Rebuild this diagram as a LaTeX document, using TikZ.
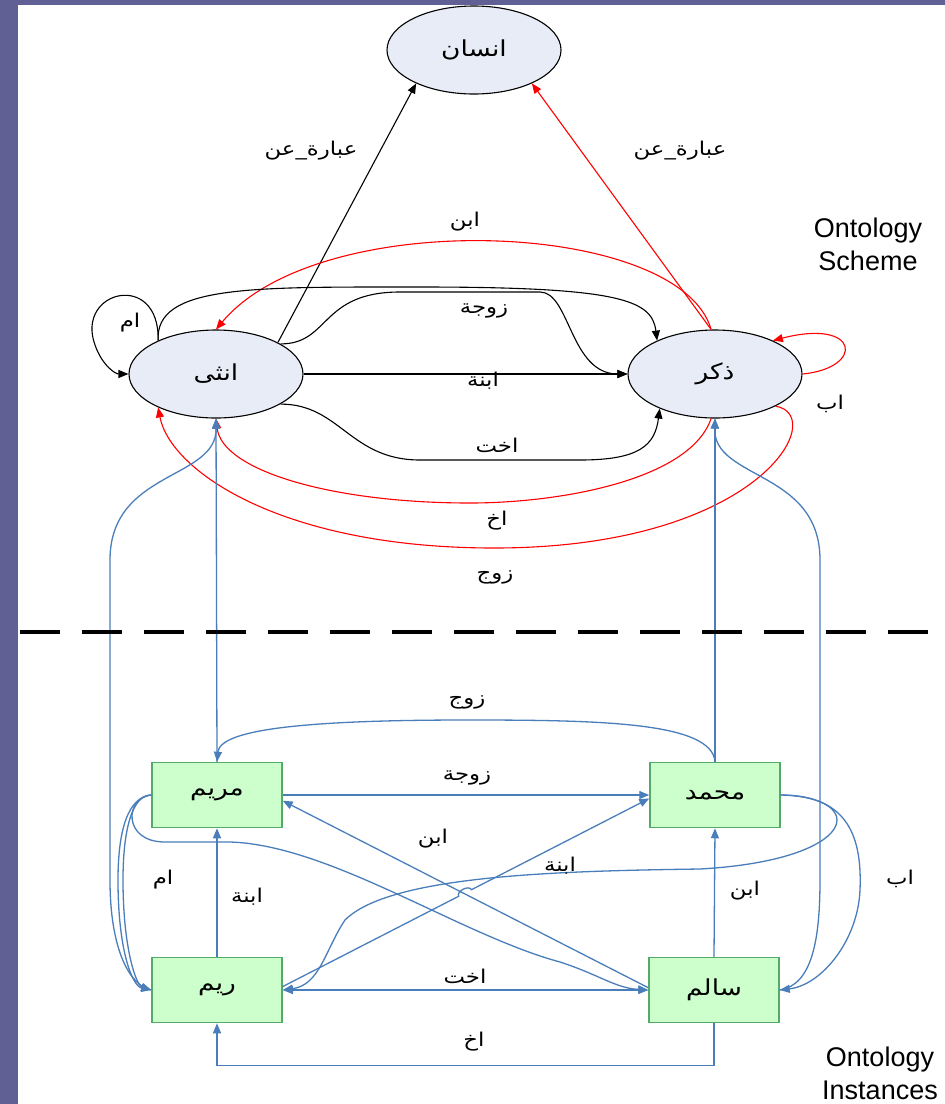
\documentclass[tikz,border=0pt]{standalone}
\usepackage{fontspec}
\setmainfont{Liberation Sans}
\newfontfamily\arabicfont[Script=Arabic,FakeStretch=1.2]{DejaVu Sans}
\usetikzlibrary{shapes.geometric,arrows.meta,calc}
\TeXXeTstate=1
\newcommand{\artxt}[1]{\arabicfont\beginR #1\endR}
\definecolor{slide}{RGB}{96,96,148}
\definecolor{clsfill}{RGB}{232,236,246}
\definecolor{insfill}{RGB}{204,255,204}
\definecolor{insdraw}{RGB}{84,170,104}
\definecolor{relblue}{RGB}{74,126,187}

\begin{document}
\begin{tikzpicture}[x=1pt, y=-1pt,
  cls/.style = {ellipse, draw, line width=1.1pt, fill=clsfill, minimum width=174pt,
    minimum height=88pt, inner sep=0pt, font=\fontsize{22}{26}\selectfont},
  inst/.style = {rectangle, draw=insdraw, line width=1.5pt, fill=insfill, minimum width=130pt,
    minimum height=65pt, inner sep=0pt, font=\fontsize{22}{26}\selectfont},
  lbl/.style = {inner sep=1pt, font=\fontsize{19}{22}\selectfont},
  part/.style = {align=center, inner sep=0pt, font=\fontsize{27}{33}\selectfont},
  tip/.style = {-{Triangle[length=10pt,width=8pt]}},
  blk/.style = {tip, line width=1.1pt},
  rd/.style = {tip, red, line width=1.1pt},
  bl/.style = {tip, relblue, line width=1.3pt}]

\useasboundingbox (0,0) rectangle (945,1104);
\clip (0,0) rectangle (945,1104);
\fill [white] (0,0) rectangle (945,1104);
\fill [slide] (0,0) rectangle (18,1104);
\fill [slide] (0,0) rectangle (945,5);

% classes
\node [cls] (insan) at (474,50) {\artxt{انسان}};
\node [cls] (untha) at (216,374) {\artxt{انثى}};
\node [cls] (dhakar) at (715,374) {\artxt{ذكر}};

% instances
\node [inst] (maryam) at (217,795) {\artxt{مريم}};
\node [inst] (mohamed) at (715,795) {\artxt{محمد}};
\node [inst] (reem) at (217,990) {\artxt{ريم}};
\node [inst] (salem) at (714,990) {\artxt{سالم}};

% scheme relations
\draw [blk] (untha.27) -- (insan.-150);
\draw [rd] (dhakar.95) -- (insan.-30);
\draw [rd] (dhakar.95) .. controls (680,220) and (320,205) .. (untha.north);
\draw [blk] (untha.150) .. controls (155,285) and (250,287) .. (420,287)
  .. controls (620,287) and (652,300) .. (dhakar.150);
\draw [blk] (untha.25) .. controls (330,344) and (320,292) .. (400,292) -- (540,292)
  .. controls (570,292) and (570,374) .. (dhakar.west);
\draw [blk] (untha.east) -- (dhakar.west);
\draw [blk] (untha.-25) .. controls (340,404) and (350,460) .. (420,460) -- (580,460)
  .. controls (640,460) and (655,445) .. (dhakar.-148);
\draw [blk] (untha.150) .. controls (160,270) and (75,290) .. (95,345)
  .. controls (102,365) and (115,374) .. (untha.west);
\draw [rd] (dhakar.east) .. controls (865,368) and (860,318) .. (dhakar.30);
\draw [rd] (dhakar.-95) .. controls (690,480) and (560,503) .. (470,503)
  .. controls (330,503) and (222,470) .. (untha.south);
\draw [rd] (dhakar.-28) .. controls (830,415) and (760,548) .. (494,548)
  .. controls (280,548) and (170,470) .. (untha.-150);

% instance of
\draw [bl] (maryam.north) -- (untha.south);
\draw [bl] (mohamed.north) -- (dhakar.south);
\draw [bl] (reem.west) .. controls (130,986) and (110,950) .. (110,880) -- (110,560)
  .. controls (110,470) and (217,480) .. (untha.south);
\draw [bl] (salem.east) .. controls (812,985) and (820,940) .. (820,880) -- (820,560)
  .. controls (820,470) and (713,480) .. (dhakar.south);

% instance relations
\draw [bl] (maryam.west) .. controls (128,797) and (118,830) .. (118,880)
  .. controls (118,950) and (132,986) .. (reem.west);
\draw [bl] (maryam.west) .. controls (132,795) and (123,830) .. (123,880)
  .. controls (123,948) and (136,985) .. (reem.west);
\draw [bl] (maryam.west) .. controls (125,797) and (122,842) .. (165,842) -- (230,842)
  .. controls (330,845) and (460,935) .. (560,962)
  .. controls (600,975) and (615,988) .. (salem.west);
\draw [bl] (mohamed.north) .. controls (712,722) and (600,720) .. (467,720)
  .. controls (300,720) and (220,730) .. (maryam.north);
\draw [bl] (maryam.east) -- (mohamed.west);
\draw [bl] (salem.178) -- (maryam.-5);
\draw [bl] (reem.3) -- ($(reem.3)!0.48!(mohamed.183)$) to [bend left=90]
  ($(reem.3)!0.515!(mohamed.183)$) -- (mohamed.183);
\draw [bl] (reem.north) -- (maryam.south);
\draw [bl] (salem.north) -- (mohamed.south);
\draw [bl, {Triangle[length=10pt,width=8pt]}-{Triangle[length=10pt,width=8pt]}] (reem.east) -- (salem.west);
\draw [bl] (salem.south) -- ++(0,42) -| (reem.south);
\draw [bl] (mohamed.east) .. controls (870,797) and (860,860) .. (700,869)
  .. controls (560,871) and (390,875) .. (345,920)
  .. controls (325,950) and (320,985) .. (reem.east);
\draw [bl] (mohamed.east) .. controls (850,795) and (862,840) .. (860,890)
  .. controls (858,940) and (822,985) .. (salem.east);

% separator
\draw [line width=4pt, dash pattern=on 40pt off 22pt] (20,632) -- (945,632);

% labels
\node [lbl] (lAbout1) at (311,151) {\artxt{عبارة\_عن}};
\node [lbl] (lAbout2) at (680,151) {\artxt{عبارة\_عن}};
\node [lbl] (lSon1) at (465,222) {\artxt{ابن}};
\node [lbl] (lWife1) at (484,311) {\artxt{زوجة}};
\node [lbl] (lDaug1) at (483,381) {\artxt{ابنة}};
\node [lbl] (lMom1) at (130,323) {\artxt{ام}};
\node [lbl] (lDad1) at (830,404) {\artxt{اب}};
\node [lbl] (lSis1) at (497,445) {\artxt{اخت}};
\node [lbl] (lBro1) at (497,521) {\artxt{اخ}};
\node [lbl] (lHus1) at (495,577) {\artxt{زوج}};
\node [lbl] (lHus2) at (467,702) {\artxt{زوج}};
\node [lbl] (lWife2) at (467,778) {\artxt{زوجة}};
\node [lbl] (lSon2) at (433,839) {\artxt{ابن}};
\node [lbl] (lDaug2) at (560,866) {\artxt{ابنة}};
\node [lbl] (lDaug3) at (247,897) {\artxt{ابنة}};
\node [lbl] (lMom2) at (163,880) {\artxt{ام}};
\node [lbl] (lSon3) at (745,891) {\artxt{ابن}};
\node [lbl] (lDad2) at (900,879) {\artxt{اب}};
\node [lbl] (lSis2) at (465,976) {\artxt{اخت}};
\node [lbl] (lBro2) at (474,1042) {\artxt{اخ}};

\node [part] (scheme) at (868,244) {Ontology\\Scheme};
\node [part] (instances) at (880,1073) {Ontology\\Instances};
\end{tikzpicture}
\end{document}
